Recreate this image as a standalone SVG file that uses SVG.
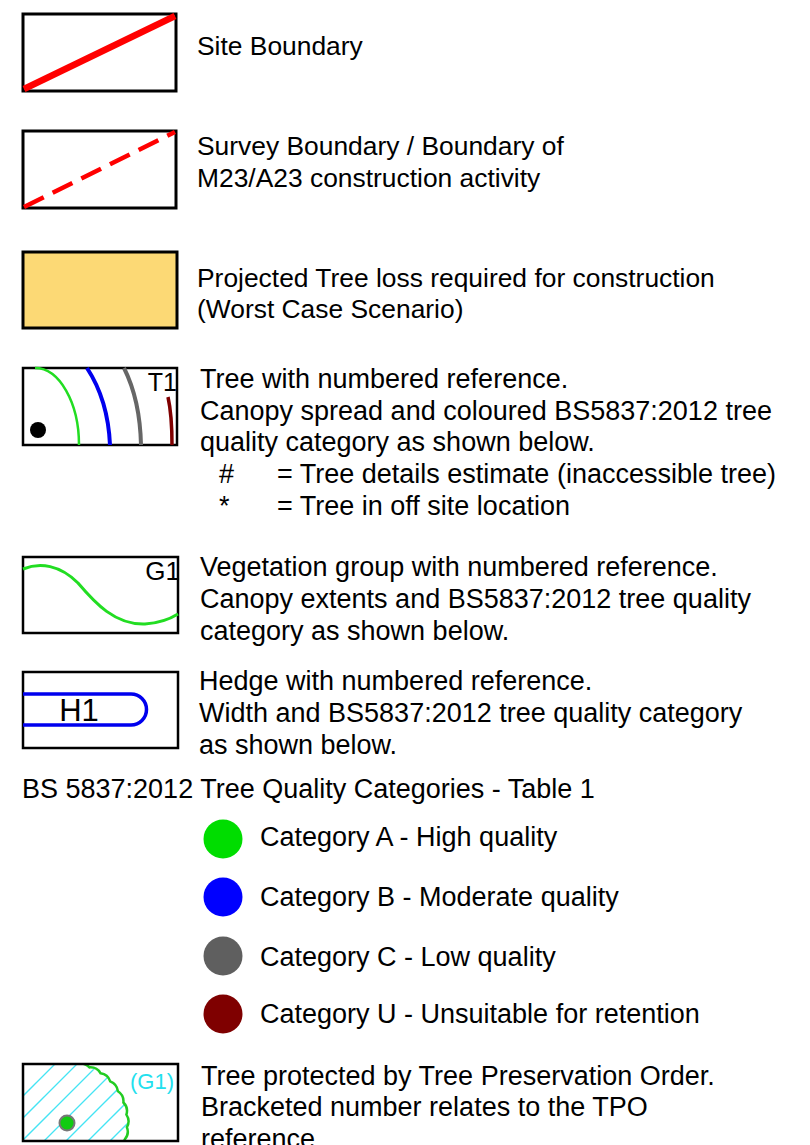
<svg xmlns="http://www.w3.org/2000/svg" width="810" height="1145" viewBox="0 0 810 1145">
<style>
  text { font-family: "Liberation Sans", Arial, sans-serif; font-size: 27px; fill: #000; }
  .top { font-size: 26.4px; }
  .box { fill: none; stroke: #000; stroke-width: 2.5; }
  .thick { fill: none; stroke: #000; stroke-width: 3; }
  .lbl { font-size: 25px; }
</style>
<defs>
  <clipPath id="tpoBox"><rect x="23" y="1064" width="155" height="77"/></clipPath>
  <clipPath id="tpoCanopy"><circle cx="67" cy="1123" r="60"/></clipPath>
</defs>

<g id="site-boundary">
  <rect class="thick" x="23" y="14" width="153" height="77"/>
  <line x1="24" y1="89" x2="175" y2="16" stroke="#ff0000" stroke-width="6.5"/>
  <text class="top" x="197" y="55">Site Boundary</text>
</g>

<g id="survey-boundary">
  <rect class="thick" x="23" y="131" width="153" height="77"/>
  <line x1="24" y1="207" x2="175" y2="132" stroke="#ff0000" stroke-width="4.5" stroke-dasharray="22 10"/>
  <text class="top" x="197" y="155">Survey Boundary / Boundary of</text>
  <text class="top" x="197" y="187">M23/A23 construction activity</text>
</g>

<g id="tree-loss">
  <rect x="23" y="252" width="154" height="76" fill="#fcd975" stroke="#000" stroke-width="3"/>
  <text class="top" x="197" y="287">Projected Tree loss required for construction</text>
  <text class="top" x="197" y="318">(Worst Case Scenario)</text>
</g>

<g id="tree">
  <rect class="box" x="23" y="368" width="154" height="77"/>
  <path d="M35,368 A44,77 0 0 1 79,445" fill="none" stroke="#22dd22" stroke-width="2.5"/>
  <path d="M87,368 Q108,400 110,445" fill="none" stroke="#0000ee" stroke-width="4"/>
  <path d="M124,368 Q140,400 141,445" fill="none" stroke="#666666" stroke-width="4"/>
  <path d="M168,397 Q172,415 172,445" fill="none" stroke="#800000" stroke-width="3.5"/>
  <circle cx="38" cy="430" r="8" fill="#000"/>
  <text class="lbl" x="177" y="391" text-anchor="end">T1</text>
  <text x="200" y="388">Tree with numbered reference.</text>
  <text x="200" y="420">Canopy spread and coloured BS5837:2012 tree</text>
  <text x="200" y="451">quality category as shown below.</text>
  <text x="219" y="483">#</text>
  <text x="277" y="483">= Tree details estimate (inaccessible tree)</text>
  <text x="219" y="515">*</text>
  <text x="277" y="515">= Tree in off site location</text>
</g>

<g id="vegetation-group">
  <rect class="box" x="23" y="557" width="155" height="76"/>
  <path d="M23,569 C40,562 60,565 78,583 C95,603 115,625 145,624 C160,623 170,619 178,614" fill="none" stroke="#22dd22" stroke-width="3"/>
  <text x="180" y="580" text-anchor="end" style="font-size:26px">G1</text>
  <text x="200" y="576">Vegetation group with numbered reference.</text>
  <text x="200" y="608">Canopy extents and BS5837:2012 tree quality</text>
  <text x="200" y="640">category as shown below.</text>
</g>

<g id="hedge">
  <rect class="box" x="23" y="672" width="155" height="76"/>
  <path d="M23,694 H131 A15.5,15.5 0 0 1 131,725 H23" fill="none" stroke="#0000ee" stroke-width="3.5"/>
  <text x="79" y="721" text-anchor="middle" style="font-size:31px">H1</text>
  <text x="199" y="690">Hedge with numbered reference.</text>
  <text x="199" y="722">Width and BS5837:2012 tree quality category</text>
  <text x="199" y="754">as shown below.</text>
</g>

<g id="categories-title">
  <text x="22" y="798">BS 5837:2012 Tree Quality Categories - Table 1</text>
</g>

<g id="category-a">
  <circle cx="223" cy="839" r="19.5" fill="#00dd00"/>
  <text x="260" y="846">Category A - High quality</text>
</g>
<g id="category-b">
  <circle cx="223" cy="897" r="19.5" fill="#0000ff"/>
  <text x="260" y="906">Category B - Moderate quality</text>
</g>
<g id="category-c">
  <circle cx="223" cy="956" r="19.5" fill="#5f5f5f"/>
  <text x="260" y="966">Category C - Low quality</text>
</g>
<g id="category-u">
  <circle cx="223" cy="1014" r="19.5" fill="#7f0000"/>
  <text x="260" y="1023">Category U - Unsuitable for retention</text>
</g>

<g id="tpo">
  <g clip-path="url(#tpoBox)">
    <g clip-path="url(#tpoCanopy)" stroke="#44e4f4" stroke-width="1.3">
      <line x1="0" y1="1141" x2="80" y2="1061"/>
      <line x1="22" y1="1141" x2="102" y2="1061"/>
      <line x1="44" y1="1141" x2="124" y2="1061"/>
      <line x1="66" y1="1141" x2="146" y2="1061"/>
      <line x1="88" y1="1141" x2="168" y2="1061"/>
      <line x1="110" y1="1141" x2="190" y2="1061"/>
      <line x1="-22" y1="1141" x2="58" y2="1061"/>
      <line x1="-44" y1="1141" x2="36" y2="1061"/>
    </g>
    <path d="M77.4,1063.9 A12,12 0 0 1 89.5,1067.4 A12,12 0 0 1 100.6,1073.3 A12,12 0 0 1 110.2,1081.3 A12,12 0 0 1 117.9,1091.2 A12,12 0 0 1 123.4,1102.5 A12,12 0 0 1 126.4,1114.6 A12,12 0 0 1 126.9,1127.2 A12,12 0 0 1 124.7,1139.5 L123.4,1143.5" fill="none" stroke="#22cc22" stroke-width="2.5"/>
  </g>
  <rect class="box" x="23" y="1064" width="155" height="77"/>
  <circle cx="67" cy="1123" r="7.5" fill="#11cc11" stroke="#777" stroke-width="2"/>
  <text x="174" y="1089" text-anchor="end" style="font-size:22px;fill:#22e0ee">(G1)</text>
  <text x="201" y="1085">Tree protected by Tree Preservation Order.</text>
  <text x="201" y="1116">Bracketed number relates to the TPO</text>
  <text x="201" y="1148">reference.</text>
</g>
</svg>
